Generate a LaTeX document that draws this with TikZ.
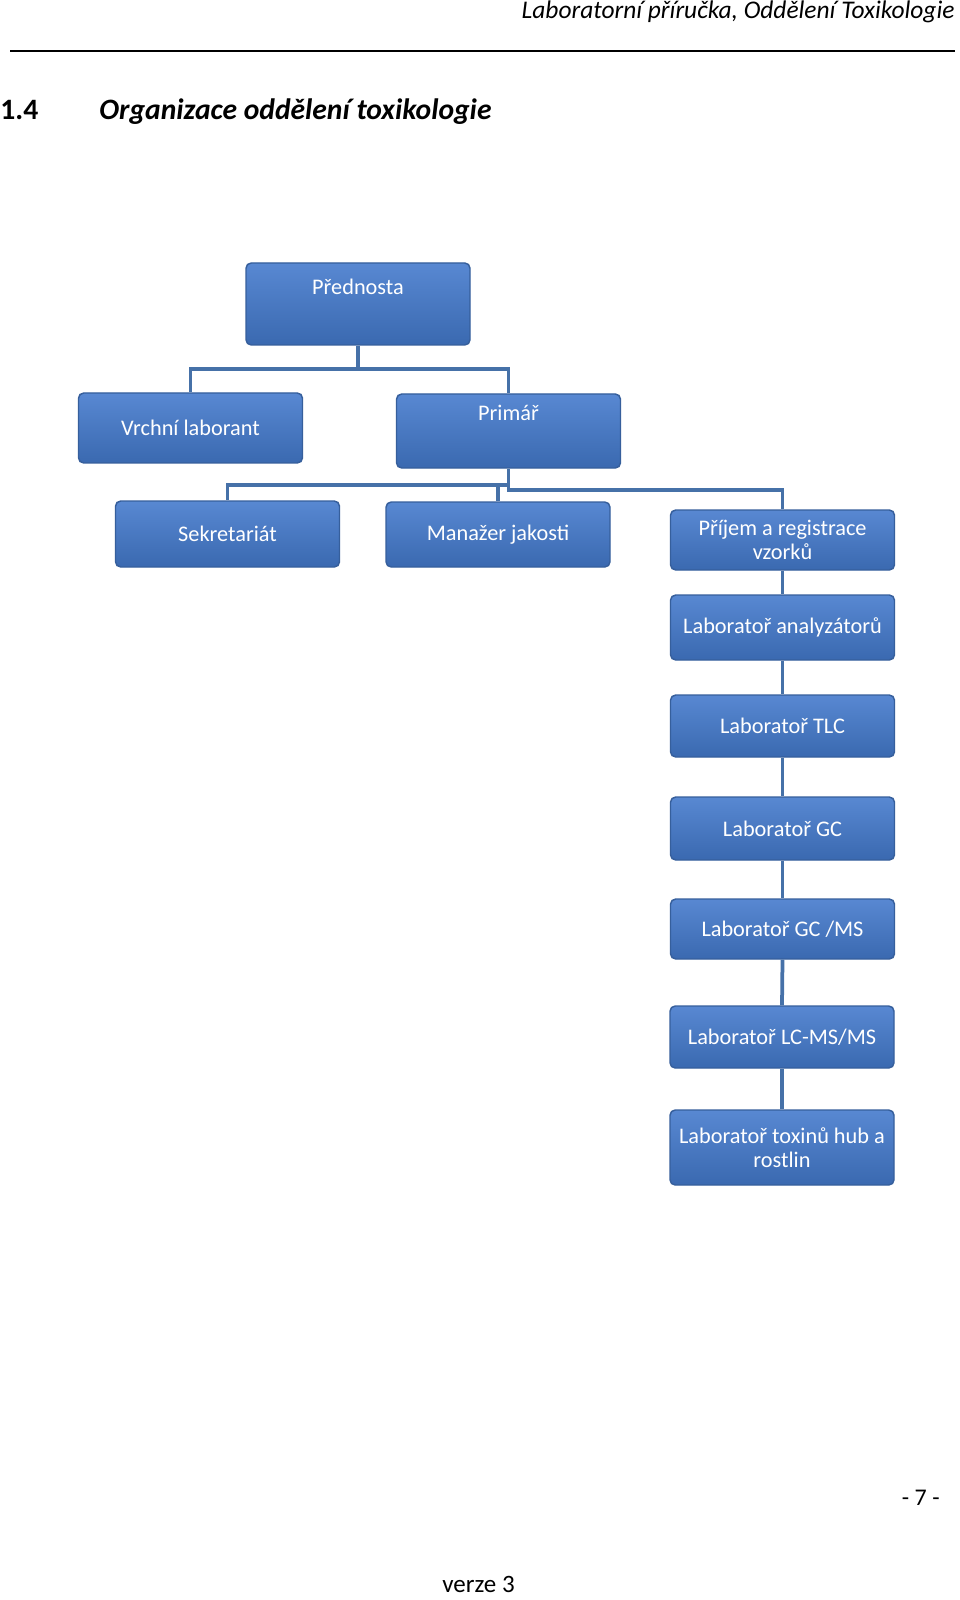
\documentclass[tikz,border=0pt]{standalone}
\usepackage{fontspec}
\setmainfont{Carlito}
\usepackage{xcolor}
\usepackage{tikz}
\usetikzlibrary{positioning}

\definecolor{boxtop}{HTML}{5888D2}
\definecolor{boxbot}{HTML}{3A69B0}
\definecolor{boxline}{HTML}{365F9C}
\definecolor{linkcol}{HTML}{4671A8}

\newcommand{\pxu}{0.48pt}

\tikzset{
  orgbox/.style={draw=boxline, line width=0.7pt, rounded corners=2.5pt,
    top color=boxtop, bottom color=boxbot, text=white,
    font=\fontsize{10.7}{11.8}\selectfont, align=center,
    minimum width=224*\pxu, inner sep=1pt},
  toptext/.style={anchor=base, text=white, inner sep=0pt,
    font=\fontsize{10.7}{11.8}\selectfont},
  link/.style={draw=linkcol, line width=1.8pt},
  pagetext/.style={inner sep=0pt, font=\fontsize{12}{14}\selectfont},
}

\begin{document}
\begin{tikzpicture}[x=0.48pt, y=-0.48pt]
  \fill[white] (0,0) rectangle (960,1600);
  \useasboundingbox (0,0) rectangle (960,1600);
  % --- page head ---
  \node[pagetext, anchor=base east, font=\fontsize{12.2}{14}\selectfont\itshape] (head) at (955,19) {Laboratorní příručka, Oddělení Toxikologie};
  \draw[line width=0.7pt] (10,51) -- (955,51);
  \node[pagetext, anchor=base west, font=\fontsize{14.2}{16}\selectfont\bfseries] (secnum) at (0,120) {1.4};
  \node[pagetext, anchor=base west, font=\fontsize{14.2}{16}\selectfont\bfseries\itshape] (sectitle) at (99,120) {Organizace oddělení toxikologie};
  % --- top level ---
  \node[orgbox, minimum height=82*\pxu, label={[toptext, yshift=-32*\pxu]north:Přednosta}] (pred) at (358,304) {};
  \node[orgbox, minimum height=70*\pxu] (vrch) at (190.5,428) {Vrchní laborant};
  \node[orgbox, minimum height=74*\pxu, label={[toptext, yshift=-27*\pxu]north:Primář}] (prim) at (508.5,431) {};
  % --- under primar ---
  \node[orgbox, minimum height=66*\pxu] (sekr) at (227.5,534) {Sekretariát};
  \node[orgbox, minimum height=65*\pxu] (mana) at (498,534.5) {Manažer jakosti};
  \node[orgbox, minimum height=60*\pxu] (prij) at (782.5,540) {Příjem a registrace\\vzorků};
  % --- laboratories ---
  \node[orgbox, minimum height=65*\pxu] (anal) at (782.5,627.5) {Laboratoř analyzátorů};
  \node[orgbox, minimum height=62*\pxu] (tlc) at (782.5,726) {Laboratoř TLC};
  \node[orgbox, minimum height=63*\pxu] (gc) at (782.5,828.5) {Laboratoř GC};
  \node[orgbox, minimum height=60*\pxu] (gcms) at (782.5,929) {Laboratoř GC /MS};
  \node[orgbox, minimum height=62*\pxu] (lcms) at (782,1037) {Laboratoř LC-MS/MS};
  \node[orgbox, minimum height=75*\pxu] (tox) at (782,1147.5) {Laboratoř toxinů hub a\\rostlin};
  % --- connectors ---
  \coordinate (busA) at (0,369);
  \coordinate (busB) at (0,485);
  \coordinate (busC) at (0,490);
  \draw[link] (pred.south) -- (pred.south |- busA) -| (vrch.north);
  \draw[link] (pred.south |- busA) -| (prim.north);
  \draw[link] (prim.south) -- (prim.south |- busC) -| (prij.north);
  \draw[link] (prim.south |- busB) -| (sekr.north);
  \draw[link] (mana.north) -- (mana.north |- busB);
  \foreach \a/\b in {prij/anal, anal/tlc, tlc/gc, gc/gcms, gcms/lcms, lcms/tox}
    \draw[link] (\a.south) -- (\b.north);
  % --- page foot ---
  \node[pagetext, anchor=base east, font=\fontsize{11.5}{13}\selectfont] (pnum) at (940,1505) {- 7 -};
  \node[pagetext, anchor=base west] (ver) at (442,1592) {verze 3};
\end{tikzpicture}
\end{document}
